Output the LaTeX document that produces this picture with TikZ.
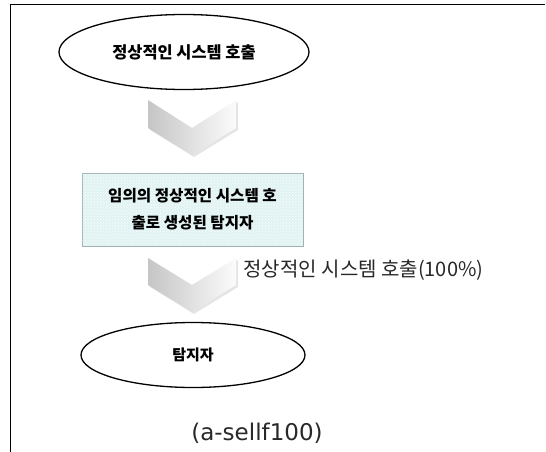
\documentclass[tikz,border=0pt]{standalone}
\usepackage{fontspec}
\setmainfont{Noto Sans CJK KR}
\newfontfamily\latinf{DejaVu Sans}
\usetikzlibrary{shapes.geometric,patterns}
\definecolor{boxfill}{RGB}{224,242,242}
\definecolor{boxline}{RGB}{160,180,180}
\definecolor{textgrey}{RGB}{40,40,40}
\begin{document}
\begin{tikzpicture}[x=1pt,y=-1pt,
  oval/.style={draw=black,line width=1.3pt,ellipse,inner sep=0pt},
  chev/.style={left color=gray!45,right color=gray!3,draw=none},
  boxtext/.style={align=center,font=\bfseries\fontsize{15.6}{27}\selectfont},
  boxstyle/.style={draw=boxline,line width=1pt,fill=boxfill,minimum width=221pt,minimum height=73pt,boxtext}]
\useasboundingbox (0,0) rectangle (546,452);
\draw[line width=1pt] (545,5) -- (10,5) -- (10,452);
% top ellipse
\node[oval,minimum width=250pt,minimum height=75pt,font=\bfseries\fontsize{16.4}{19}\selectfont] (start) at (184,52) {정상적인 시스템 호출};
% chevron 1
\fill[gray!20] (150,102) -- (194,130) -- (238,102) -- (238,130) -- (194,157) -- (150,130) -- cycle;
\shade[chev] (148,100) -- (192,128) -- (236,100) -- (236,128) -- (192,155) -- (148,128) -- cycle;
% box
\node[boxstyle] (box) at (192.5,209.5) {\phantom{출}};
\fill[pattern=crosshatch dots,pattern color=white] ([shift={(1,-1)}]box.south west) rectangle ([shift={(-1,1)}]box.north east);
\node[boxtext] (boxlbl) at (box.center) {임의의 정상적인 시스템 호\\출로 생성된 탐지자};
% chevron 2
\fill[gray!20] (150,260) -- (194,287) -- (238,260) -- (238,287) -- (194,314) -- (150,287) -- cycle;
\shade[chev] (148,258) -- (192,285) -- (236,258) -- (236,285) -- (192,312) -- (148,285) -- cycle;
\node[anchor=west,text=textgrey,font=\fontsize{20}{24}\selectfont] (lbl) at (240,270) {정상적인 시스템 호출(100\%)};
% bottom ellipse
\node[oval,minimum width=224pt,minimum height=65pt,font=\bfseries\fontsize{15}{18}\selectfont] (det) at (193,355) {탐지자};
% caption
\node[text=textgrey,font=\latinf\fontsize{23}{27}\selectfont] (cap) at (257,433) {(a-sellf100)};
\end{tikzpicture}
\end{document}
